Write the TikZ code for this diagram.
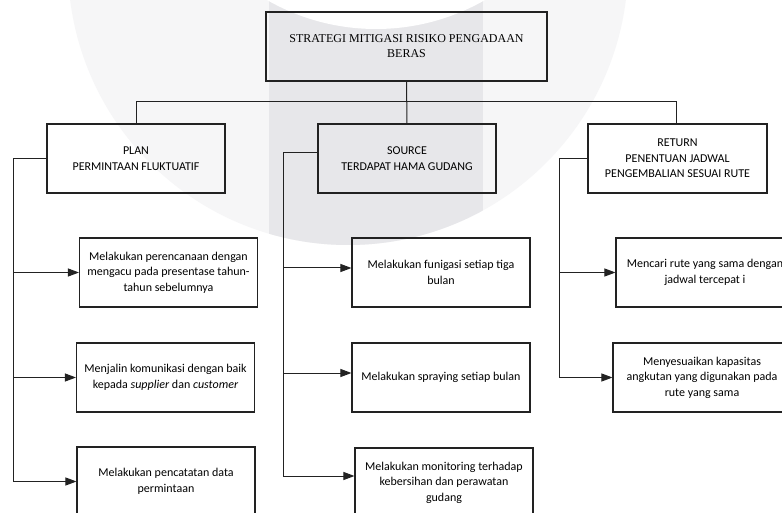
\documentclass[tikz,border=0pt]{standalone}
\usepackage{fontspec}
\setmainfont{Carlito}
\newfontfamily\timesf{Liberation Serif}
\usetikzlibrary{arrows.meta}
\definecolor{wmbar}{HTML}{E7E7EA}
\definecolor{wmring}{HTML}{F6F6F7}
\definecolor{ink}{HTML}{222222}
\begin{document}
\begin{tikzpicture}[x=1pt,y=-1pt,
  box/.style={draw=ink, line width=1.1pt, minimum width=178pt, minimum height=69pt,
    align=center, inner sep=0pt, font=\fontsize{12}{15.5}\selectfont},
  conn/.style={draw=ink, line width=1pt},
  arr/.style={conn, -{Triangle[length=11pt,width=8pt]}}]
\useasboundingbox (0,0) rectangle (782,513);
\clip (0,0) rectangle (782,513);
\fill[white] (0,0) rectangle (782,513);
% watermark
\fill[wmring] (348,-35) circle[radius=280pt];
\begin{scope}
  \clip (348,-35) circle[radius=280pt];
  \fill[wmbar] (269,0) rectangle (483,300);
\end{scope}
\fill[white] (376,-190) circle[radius=219pt];
% boxes
\node[box, minimum width=281pt, font=\timesf\fontsize{12}{15}\selectfont] (top) at (406.5,46.5)
  {STRATEGI MITIGASI RISIKO PENGADAAN\\BERAS};
\node[box] (plan) at (136,158.5) {PLAN\\PERMINTAAN FLUKTUATIF};
\node[box] (source) at (407,158.5) {SOURCE\\TERDAPAT HAMA GUDANG};
\node[box, minimum width=179pt] (ret) at (677.5,158.5) {RETURN\\PENENTUAN JADWAL\\PENGEMBALIAN SESUAI RUTE};
\node[box] (c1) at (168.5,272.5) {Melakukan perencanaan dengan\\mengacu pada presentase tahun-\\tahun sebelumnya};
\node[box] (c2) at (165.5,377.5) {Menjalin komunikasi dengan baik\\kepada \textit{supplier} dan \textit{customer}};
\node[box] (c3) at (166,481.5) {Melakukan pencatatan data\\permintaan};
\node[box] (s1) at (441,272.5) {Melakukan funigasi setiap tiga\\bulan};
\node[box] (s2) at (441,377.5) {Melakukan spraying setiap bulan};
\node[box] (s3) at (444,482.5) {Melakukan monitoring terhadap\\kebersihan dan perawatan\\gudang};
\node[box] (r1) at (705,272.5) {Mencari rute yang sama dengan\\jadwal tercepat i};
\node[box] (r2) at (702,377.5) {Menyesuaikan kapasitas\\angkutan yang digunakan pada\\rute yang sama};
% top connectors
\coordinate (bus) at (406.5,101.7);
\draw[conn] (top.south) -- (source.north);
\draw[conn] (plan.north) |- (bus) -| ([xshift=-1.5pt]ret.north);
% plan spine
\coordinate (pb) at (13,482);
\draw[conn] (plan.west) -| (pb);
\draw[arr] (pb |- c1.west) -- (c1.west);
\draw[arr] (pb |- c2.west) -- (c2.west);
\draw[arr] (pb |- c3.west) -- (c3.west);
% source spine
\coordinate (sb) at (283,476);
\coordinate (sin) at ([yshift=5.5pt]source.west);
\coordinate (s1in) at ([yshift=4.5pt]s1.west);
\coordinate (s2in) at ([yshift=4.5pt]s2.west);
\coordinate (s3in) at ([yshift=6.5pt]s3.west);
\draw[conn] (sin) -| (sb);
\draw[arr] (sb |- s1in) -- (s1in);
\draw[arr] (sb |- s2in) -- (s2in);
\draw[arr] (sb |- s3in) -- (s3in);
% return spine
\coordinate (rb) at (559,377);
\draw[conn] (ret.west) -| (rb);
\draw[arr] (rb |- r1.west) -- (r1.west);
\draw[arr] (rb |- r2.west) -- (r2.west);
\end{tikzpicture}
\end{document}
